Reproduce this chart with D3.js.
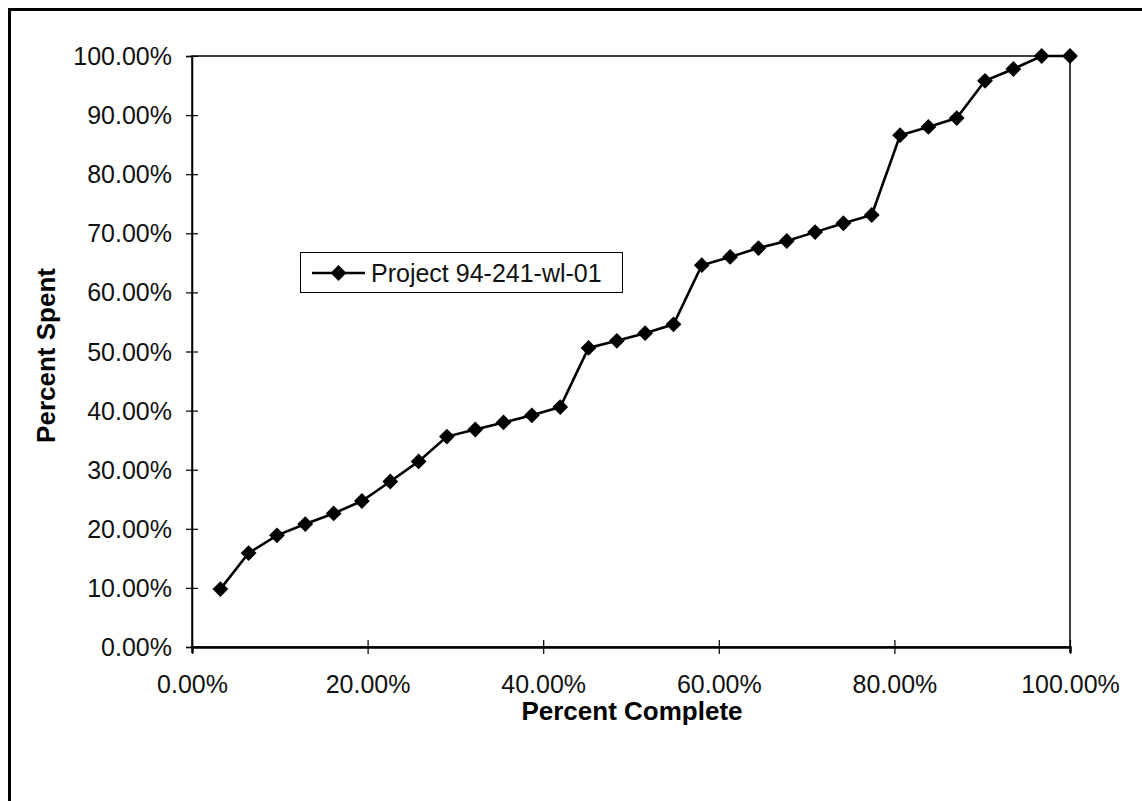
<!DOCTYPE html>
<html>
<head>
<meta charset="utf-8">
<script src="https://cdn.jsdelivr.net/npm/d3@7/dist/d3.min.js"></script>
<style>
  html, body { margin: 0; padding: 0; background: #fff; }
  svg { display: block; font-family: "Liberation Sans", Arial, sans-serif; }
</style>
</head>
<body>
<svg id="chart" width="1142" height="801"></svg>
<script>
// ---- data ----
const percentComplete = [3.23, 6.45, 9.68, 12.90, 16.13, 19.35, 22.58, 25.81, 29.03, 32.26,
  35.48, 38.71, 41.94, 45.16, 48.39, 51.61, 54.84, 58.06, 61.29, 64.52,
  67.74, 70.97, 74.19, 77.42, 80.65, 83.87, 87.10, 90.32, 93.55, 96.77, 100.00];
const percentSpent = [9.8, 15.9, 18.9, 20.8, 22.6, 24.7, 28.0, 31.4, 35.6, 36.8,
  38.0, 39.2, 40.6, 50.6, 51.8, 53.1, 54.6, 64.6, 66.0, 67.5,
  68.7, 70.2, 71.7, 73.1, 86.6, 88.0, 89.5, 95.8, 97.8, 100.0, 100.0];
const xTicks = [0, 20, 40, 60, 80, 100];
const yTicks = [0, 10, 20, 30, 40, 50, 60, 70, 80, 90, 100];
const seriesName = "Project 94-241-wl-01";
const xTitle = "Percent Complete";
const yTitle = "Percent Spent";

(function () {
const svg = d3.select("#chart");
const pLeft = 192, pRight = 1070, pTop = 56, pBottom = 647;

const x = d3.scaleLinear().domain([0, 100]).range([pLeft, pRight]);
const y = d3.scaleLinear().domain([0, 100]).range([pBottom, pTop]);
const fmt = d => d.toFixed(2) + "%";

// outer frame (left and top thick edges)
svg.append("path")
  .attr("d", "M9.5,801 L9.5,9.5 L1142,9.5")
  .attr("fill", "none").attr("stroke", "#000").attr("stroke-width", 3);

// plot area box
svg.append("rect")
  .attr("x", pLeft).attr("y", pTop)
  .attr("width", pRight - pLeft).attr("height", pBottom - pTop)
  .attr("fill", "none").attr("stroke", "#000").attr("stroke-width", 1.5);

// y axis
const gy = svg.append("g").attr("transform", `translate(${pLeft},0)`)
  .call(d3.axisLeft(y).tickValues(yTicks).tickFormat(fmt).tickSize(6).tickPadding(14));
gy.select(".domain").attr("stroke-width", 1.5);
gy.selectAll(".tick line").attr("x1", -6).attr("x2", 6).attr("stroke-width", 1.2);
gy.selectAll(".tick text").attr("font-size", 25).attr("fill", "#111")
  .attr("font-family", "'Liberation Sans', Arial, sans-serif").attr("dy", "0.34em");

// x axis
const gx = svg.append("g").attr("transform", `translate(0,${pBottom})`)
  .call(d3.axisBottom(x).tickValues(xTicks).tickFormat(fmt).tickSize(6).tickPadding(22));
gx.select(".domain").attr("stroke-width", 2.5);
gx.selectAll(".tick line").attr("y1", -7).attr("y2", 7).attr("stroke-width", 1.2);
gx.selectAll(".tick text").attr("font-size", 25).attr("fill", "#111")
  .attr("font-family", "'Liberation Sans', Arial, sans-serif");

// axis titles
svg.append("text")
  .attr("x", (pLeft + pRight) / 2 + 1).attr("y", 720)
  .attr("text-anchor", "middle").attr("font-size", 26).attr("font-weight", "bold")
  .text(xTitle);
svg.append("text")
  .attr("transform", `translate(55,${(pTop + pBottom) / 2 + 4}) rotate(-90)`)
  .attr("text-anchor", "middle").attr("font-size", 26).attr("font-weight", "bold")
  .text(yTitle);

// series line
const pts = percentComplete.map((v, i) => [v, percentSpent[i]]);
svg.append("path")
  .datum(pts)
  .attr("d", d3.line().x(d => x(d[0])).y(d => y(d[1])))
  .attr("fill", "none").attr("stroke", "#000").attr("stroke-width", 2.6);

// diamond markers
const diamond = d3.symbol().type(d3.symbolSquare).size(125);
svg.append("g").selectAll("path")
  .data(pts).join("path")
  .attr("d", diamond)
  .attr("transform", d => `translate(${x(d[0])},${y(d[1])}) rotate(45)`)
  .attr("fill", "#000");

// legend
const lg = svg.append("g");
lg.append("rect").attr("x", 300.5).attr("y", 252.5).attr("width", 322).attr("height", 40)
  .attr("fill", "#fff").attr("stroke", "#000").attr("stroke-width", 1);
lg.append("line").attr("x1", 312).attr("x2", 365).attr("y1", 273).attr("y2", 273)
  .attr("stroke", "#000").attr("stroke-width", 2.5);
lg.append("path").attr("d", diamond)
  .attr("transform", "translate(338.5,273) rotate(45)").attr("fill", "#000");
lg.append("text").attr("x", 371).attr("y", 282)
  .attr("font-size", 25).attr("fill", "#111").text(seriesName);
})();
</script>
</body>
</html>
